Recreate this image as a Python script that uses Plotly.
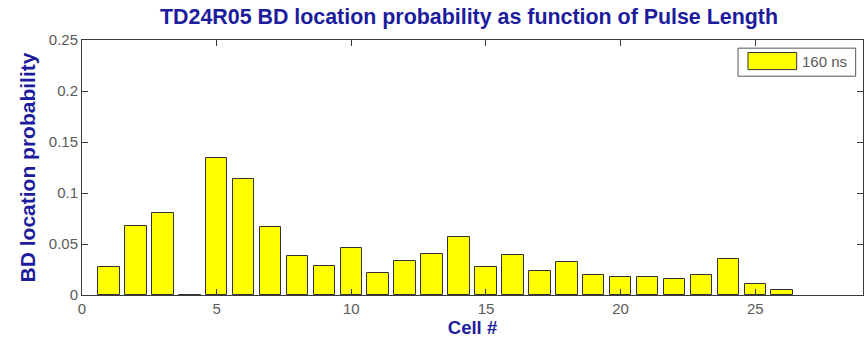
import plotly.graph_objects as go

cells = list(range(1, 27))
probability = [0.027, 0.068, 0.080, 0.0, 0.134, 0.114, 0.067, 0.038, 0.028, 0.046,
               0.022, 0.033, 0.040, 0.057, 0.027, 0.039, 0.024, 0.032, 0.020, 0.018,
               0.018, 0.016, 0.020, 0.035, 0.011, 0.005]
series_name = "160 ns"
y_ticks = [0, 0.05, 0.1, 0.15, 0.2, 0.25]
y_tick_labels = ["0", "0.05", "0.1", "0.15", "0.2", "0.25"]
x_ticks = [0, 5, 10, 15, 20, 25]

BLUE = "#1c1c9c"
GRAY = "#5a5a5a"
AXIS = "#3a3a3a"
FONT = "Liberation Sans, Arial, sans-serif"

fig = go.Figure()
fig.add_trace(go.Bar(
    x=cells, y=probability, width=0.8, name=series_name,
    marker=dict(color="#ffff00", line=dict(color="#333333", width=1)),
    showlegend=False,
))

# custom MATLAB-style legend
fig.add_shape(type="rect", xref="paper", yref="paper", x0=0.840, x1=0.9906, y0=0.858, y1=0.968,
              line=dict(color="#555555", width=1), fillcolor="white")
fig.add_shape(type="rect", xref="paper", yref="paper", x0=0.8527, x1=0.9151, y0=0.884, y1=0.951,
              line=dict(color="#333333", width=1), fillcolor="#ffff00")
fig.add_annotation(xref="paper", yref="paper", x=0.919, y=0.9155, text=series_name, showarrow=False,
                   xanchor="left", yanchor="middle", font=dict(family=FONT, size=15, color=GRAY))

fig.update_layout(
    width=868, height=343,
    margin=dict(l=82, r=5, t=39.5, b=48.3),
    paper_bgcolor="white", plot_bgcolor="white",
    font=dict(family=FONT, color=GRAY),
    title=dict(text="<b>TD24R05 BD location probability as function of Pulse Length</b>",
               x=(155 + 783) / 2 / 868, xanchor="center", y=1 - 17 / 343, yanchor="middle",
               font=dict(family=FONT, size=21.4, color=BLUE)),
    bargap=0,
)
fig.update_xaxes(
    range=[0, 29], tickvals=x_ticks, ticks="inside", ticklen=6, tickcolor=AXIS,
    showline=True, linecolor=AXIS, linewidth=1, mirror="ticks", showgrid=False, zeroline=False,
    layer="above traces",
    tickfont=dict(family=FONT, size=15, color=GRAY),
    title=dict(text="<b>Cell #</b>", font=dict(family=FONT, size=18.5, color=BLUE), standoff=4),
)
fig.update_yaxes(
    range=[0, 0.25], tickvals=y_ticks, ticktext=y_tick_labels, ticks="inside", ticklen=6, tickcolor=AXIS,
    showline=True, linecolor=AXIS, linewidth=1, mirror="ticks", showgrid=False, zeroline=False,
    layer="above traces",
    tickfont=dict(family=FONT, size=15, color=GRAY),
    title=dict(text="<b>BD location probability</b>", font=dict(family=FONT, size=21, color=BLUE), standoff=7),
)

fig.write_html("out.html")
